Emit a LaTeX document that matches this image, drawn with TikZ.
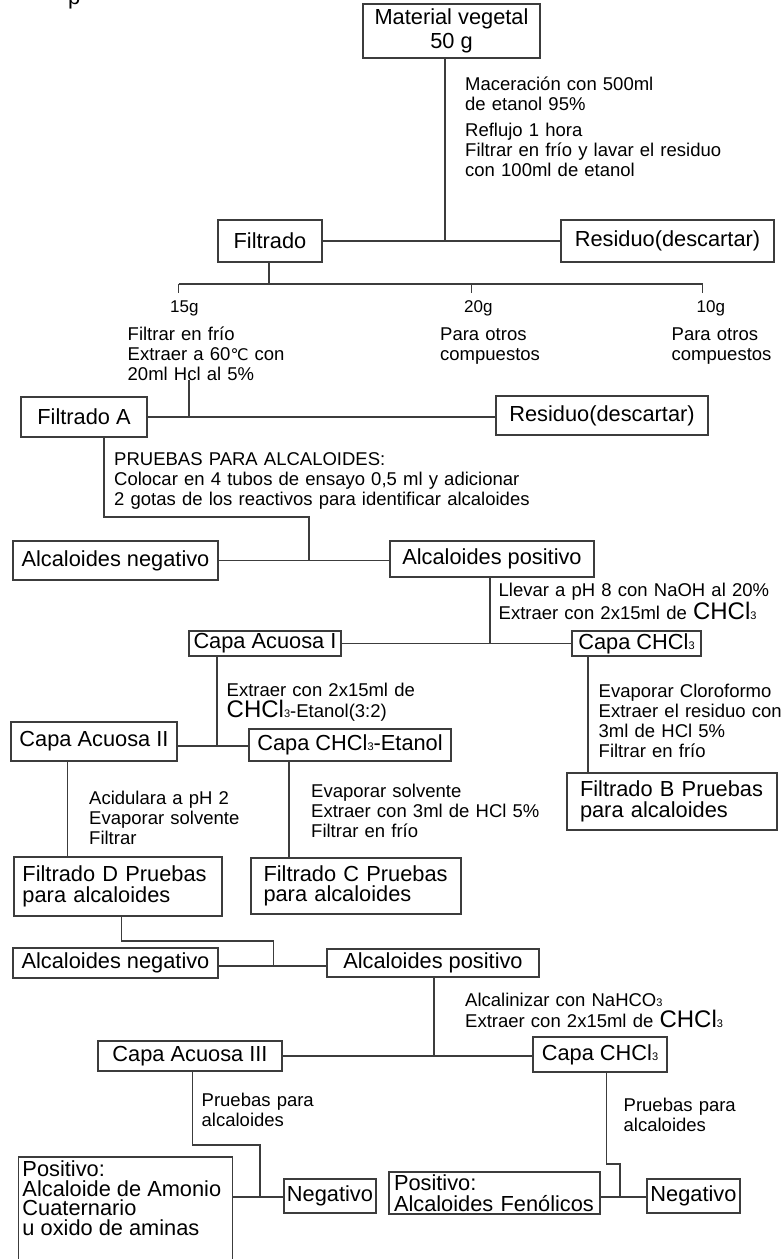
\documentclass[tikz,border=0pt]{standalone}
\usepackage{fontspec}
\setmainfont{Liberation Sans}
\newfontfamily\symbolfont{DejaVu Sans}
\definecolor{linegray}{HTML}{3C3C3C}
\newcommand\boxsize{\fontsize{21.8}{20.5}\selectfont}
\newcommand\annsize{\fontsize{18.5}{20}\selectfont}
\newcommand\chsub[1]{{\fontsize{11}{11}\selectfont #1}}
\newcommand\chclbig{{\fontsize{24}{20}\selectfont CHCl}\chsub{3}}
\newcommand\degcel{{\symbolfont\fontsize{16}{16}\selectfont ℃}}
\begin{document}
\begin{tikzpicture}[x=1pt,y=-1pt,
  spanxy/.style n args={4}{minimum width={(#3)-(#1)}, minimum height={(#4)-(#2)},
    at={({((#1)+(#3))/2},{((#2)+(#4))/2})}},
  box/.style={draw=linegray, line width=1.2pt, inner sep=0pt, font=\boxsize, align=center},
  lbox/.style={box, align=left},
  link/.style={draw=linegray, line width=1.2pt},
  note/.style={font=\annsize, text width=420pt, align=left, inner sep=0pt, anchor=base west},
  mass/.style={font=\fontsize{17}{17}\selectfont, inner sep=0pt, anchor=base west},
]
\useasboundingbox (0,0) rectangle (780,1259);

% fragment of a heading cut by the top edge
\node[font=\fontsize{22}{22}\selectfont, anchor=base west, inner sep=0pt] (frag) at (68,4) {p};

% ---------- boxes ----------
\node[box, spanxy={363}{4}{540}{58}] (mat) {Material vegetal\\[4pt]50 g};
\node[box, spanxy={218}{220}{322}{262}] (filt) {Filtrado};
\node[box, spanxy={561}{220}{774}{262}] (res1) {Residuo(descartar)};
\node[box, spanxy={21}{397}{147}{437}] (filtA) {Filtrado A};
\node[box, spanxy={496}{396}{708}{435}] (res2) {Residuo(descartar)};
\node[box, spanxy={13}{541}{218}{580}] (neg1) {Alcaloides negativo};
\node[box, spanxy={390}{541}{594}{577}] (pos1) {Alcaloides positivo};
\node[box, spanxy={189}{631}{341}{656}] (acu1) {Capa Acuosa I};
\node[box, spanxy={572}{631}{701}{656}] (chcl1) {Capa CHCl\chsub{3}};
\node[box, spanxy={11}{722}{177}{761}] (acu2) {Capa Acuosa II};
\node[box, spanxy={249}{729}{451}{761}] (chet) {Capa CHCl\chsub{3}-Etanol};
\node[lbox, spanxy={567}{773}{777}{830}, text width=184pt] (filtB) {\mbox{Filtrado B Pruebas}\\\mbox{para alcaloides}};
\node[lbox, spanxy={14}{857}{222}{916}, text width=191pt] (filtD) {\mbox{Filtrado D Pruebas}\\\mbox{para alcaloides}};
\node[lbox, spanxy={251}{858}{461}{914}, text width=185pt] (filtC) {\mbox{Filtrado C Pruebas}\\\mbox{para alcaloides}};
\node[box, spanxy={13}{948}{218}{978}] (neg2) {Alcaloides negativo};
\node[box, spanxy={327}{949}{539}{977}] (pos2) {Alcaloides positivo};
\node[box, spanxy={98}{1041}{282}{1071}] (acu3) {Capa Acuosa III};
\node[box, spanxy={533}{1037}{667}{1072}] (chcl2) {Capa CHCl\chsub{3}};
\node[box, spanxy={18.5}{1157}{232.5}{1265}] (posA)
  {\parbox[c][104pt][t]{206pt}{\fontsize{21.8}{19.4}\selectfont\raggedright
   \vspace*{2pt}Positivo:\\\mbox{Alcaloide de Amonio}\\Cuaternario\\\mbox{u oxido de aminas}}};
\node[box, spanxy={284}{1179}{376}{1213}] (negA) {Negativo};
\node[lbox, spanxy={389}{1172}{600}{1214}, text width=201pt] (posB) {Positivo:\\\mbox{Alcaloides Fenólicos}};
\node[box, spanxy={647}{1179}{740}{1213}] (negB) {Negativo};

% ---------- procedure notes ----------
\node[note] (n1) at (465,90) {Maceración con 500ml\\de etanol 95\%\\[6pt]Reflujo 1 hora\\Filtrar en frío y lavar el residuo\\con 100ml de etanol};
\node[mass] (m15) at (170,312.7) {15g};
\node[mass] (m20) at (464,312.7) {20g};
\node[mass] (m10) at (696.5,312.7) {10g};
\node[note] (n2) at (127.5,340) {Filtrar en frío\\Extraer a 60\degcel{} con\\20ml Hcl al 5\%};
\node[note] (n3) at (440,340) {Para otros\\compuestos};
\node[note] (n4) at (671.5,340) {Para otros\\compuestos};
\node[note] (n5) at (114,465) {PRUEBAS PARA ALCALOIDES:\\Colocar en 4 tubos de ensayo 0,5 ml y adicionar\\2 gotas de los reactivos para identificar alcaloides};
\node[note] (n6) at (498.5,596.7) {Llevar a pH 8 con NaOH al 20\%\\[1pt]Extraer con 2x15ml de \chclbig};
\node[note] (n7) at (226.5,696) {Extraer con 2x15ml de\\[1.5pt]\chclbig-Etanol(3:2)};
\node[note] (n8) at (598.5,697) {Evaporar Cloroformo\\Extraer el residuo con\\3ml de HCl 5\%\\Filtrar en frío};
\node[note] (n9) at (89,804) {Acidulara a pH 2\\Evaporar solvente\\Filtrar};
\node[note] (n10) at (311,797) {Evaporar solvente\\Extraer con 3ml de HCl 5\%\\Filtrar en frío};
\node[note] (n11) at (465,1006) {Alcalinizar con NaHCO\chsub{3}\\[1pt]Extraer con 2x15ml de \chclbig};
\node[note] (n12) at (201.5,1106) {Pruebas para\\alcaloides};
\node[note] (n13) at (623.5,1111.7) {Pruebas para\\alcaloides};

% ---------- junction points ----------
\coordinate (jA) at (445,242);
\coordinate (split) at (269,284);
\coordinate (t15) at (178.5,284);
\coordinate (t20) at (471.5,284);
\coordinate (t10) at (702.5,284);
\coordinate (cA) at (189,380);
\coordinate (k1) at (104,517);
\coordinate (k2) at (309,517);
\coordinate (jB) at (490,644);
\coordinate (xC) at (588,700);
\coordinate (jD) at (217,746);
\coordinate (xE) at (67.5,800);
\coordinate (xF) at (289,800);
\coordinate (k3) at (121.5,941);
\coordinate (k4) at (273.5,941);
\coordinate (jG) at (273.5,966);
\coordinate (jH) at (434,1056);
\coordinate (k5) at (192.5,1145);
\coordinate (k6) at (260,1145);
\coordinate (jI) at (260,1197);
\coordinate (k7) at (606.5,1164);
\coordinate (k8) at (620,1164);
\coordinate (jJ) at (620,1197);

% ---------- connectors ----------
\draw[link] (mat.south -| jA) -- (jA);
\draw[link] (filt.east) -- (res1.west);
\draw[link] (filt.south -| split) -- (split);
\draw[link] (t15) -- (t10);
\draw[link] (t15) -- ++(0,9);
\draw[link] (t20) -- ++(0,9);
\draw[link] (t10) -- ++(0,9);
\draw[link] (cA) -- (cA |- filtA.east);
\draw[link] (filtA.east) -- (filtA.east -| res2.west);
\draw[link] (filtA.south -| k1) -- (k1) -- (k2) -- (k2 |- neg1.east);
\draw[link] (neg1.east) -- (neg1.east -| pos1.west);
\draw[link] (pos1.south -| jB) -- (jB);
\draw[link] (acu1.east) -- (chcl1.west);
\draw[link] (chcl1.south -| xC) -- (xC |- filtB.north);
\draw[link] (acu1.south -| jD) -- (jD);
\draw[link] (acu2.east |- jD) -- (chet.west |- jD);
\draw[link] (acu2.south -| xE) -- (xE |- filtD.north);
\draw[link] (chet.south -| xF) -- (xF |- filtC.north);
\draw[link] (filtD.south -| k3) -- (k3) -- (k4) -- (jG);
\draw[link] (neg2.east |- jG) -- (pos2.west |- jG);
\draw[link] (pos2.south -| jH) -- (jH);
\draw[link] (acu3.east |- jH) -- (chcl2.west |- jH);
\draw[link] (acu3.south -| k5) -- (k5) -- (k6) -- (jI);
\draw[link] (posA.east |- jI) -- (negA.west |- jI);
\draw[link] (chcl2.south -| k7) -- (k7) -- (k8) -- (jJ);
\draw[link] (posB.east |- jJ) -- (negB.west |- jJ);
\end{tikzpicture}
\end{document}
